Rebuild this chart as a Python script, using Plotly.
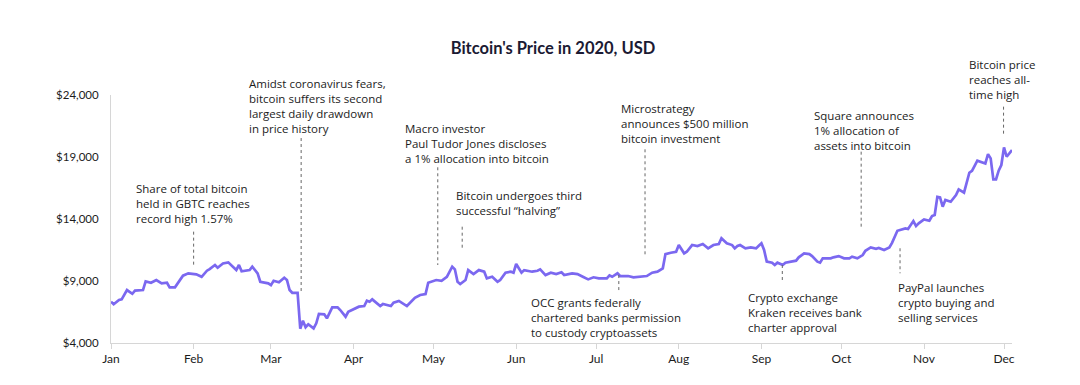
import plotly.graph_objects as go

# ---- data ----
dates = [
    "2020-01-01","2020-01-02","2020-01-04","2020-01-05","2020-01-07","2020-01-09","2020-01-10","2020-01-13",
    "2020-01-14","2020-01-16","2020-01-18","2020-01-20","2020-01-22","2020-01-23","2020-01-25","2020-01-28",
    "2020-01-30","2020-02-02","2020-02-04","2020-02-06","2020-02-07","2020-02-09","2020-02-10","2020-02-12",
    "2020-02-14","2020-02-16","2020-02-17","2020-02-18","2020-02-19","2020-02-22","2020-02-23","2020-02-25",
    "2020-02-26","2020-02-29","2020-03-01","2020-03-02","2020-03-04","2020-03-06","2020-03-07","2020-03-08",
    "2020-03-09","2020-03-11","2020-03-12","2020-03-13","2020-03-14","2020-03-15","2020-03-17","2020-03-18",
    "2020-03-19","2020-03-21","2020-03-22","2020-03-24","2020-03-26","2020-03-27","2020-03-29","2020-03-30",
    "2020-04-01","2020-04-03","2020-04-05","2020-04-06","2020-04-07","2020-04-08","2020-04-11","2020-04-12",
    "2020-04-15","2020-04-16","2020-04-18","2020-04-21","2020-04-24","2020-04-26","2020-04-28","2020-04-29",
    "2020-05-02","2020-05-04","2020-05-06","2020-05-08","2020-05-09","2020-05-10","2020-05-11","2020-05-13",
    "2020-05-14","2020-05-16","2020-05-18","2020-05-20","2020-05-21","2020-05-23","2020-05-25","2020-05-26",
    "2020-05-28","2020-05-30","2020-05-31","2020-06-01","2020-06-03","2020-06-04","2020-06-07","2020-06-09",
    "2020-06-10","2020-06-12","2020-06-14","2020-06-16","2020-06-18","2020-06-19","2020-06-22","2020-06-24",
    "2020-06-26","2020-06-28","2020-06-30","2020-07-02","2020-07-05","2020-07-06","2020-07-07","2020-07-09",
    "2020-07-10","2020-07-13","2020-07-15","2020-07-18","2020-07-20","2020-07-22","2020-07-24","2020-07-26",
    "2020-07-27","2020-07-29","2020-07-31","2020-08-01","2020-08-03","2020-08-04","2020-08-06","2020-08-08",
    "2020-08-09","2020-08-10","2020-08-12","2020-08-14","2020-08-16","2020-08-17","2020-08-19","2020-08-21",
    "2020-08-22","2020-08-23","2020-08-24","2020-08-26","2020-08-28","2020-08-30","2020-08-31","2020-09-01",
    "2020-09-02","2020-09-03","2020-09-05","2020-09-06","2020-09-07","2020-09-09","2020-09-10","2020-09-13",
    "2020-09-14","2020-09-15","2020-09-17","2020-09-19","2020-09-20","2020-09-22","2020-09-23","2020-09-24",
    "2020-09-27","2020-09-28","2020-09-30","2020-10-02","2020-10-04","2020-10-05","2020-10-07","2020-10-09",
    "2020-10-10","2020-10-12","2020-10-14","2020-10-15","2020-10-17","2020-10-19","2020-10-20","2020-10-22",
    "2020-10-24","2020-10-25","2020-10-26","2020-10-27","2020-10-28","2020-10-29","2020-10-30","2020-11-01",
    "2020-11-03","2020-11-04","2020-11-05","2020-11-06","2020-11-07","2020-11-08","2020-11-09","2020-11-11",
    "2020-11-13","2020-11-14","2020-11-16","2020-11-18","2020-11-19","2020-11-21","2020-11-23","2020-11-24",
    "2020-11-25","2020-11-26","2020-11-27","2020-11-28","2020-11-29","2020-11-30","2020-12-01","2020-12-02",
    "2020-12-04",
]
prices = [
    7330,7120,7470,7520,8270,7970,8220,8270,
    8970,8860,9080,8810,8860,8490,8490,9430,
    9620,9540,9340,9830,9960,10290,10070,10420,
    10500,10100,9880,10290,9780,9880,10150,9620,
    8940,8810,8670,9020,8890,9260,9080,8270,
    8050,8050,5150,5800,5270,5510,5180,5590,
    6340,6310,5990,6880,6880,6660,6120,6520,
    6720,6930,6980,7410,7330,7520,6980,7140,
    6980,7250,7390,6980,7650,7870,7950,8860,
    9080,9020,9340,10150,9940,8940,8760,9080,
    9880,9560,9880,9750,9210,9340,8940,9080,
    9670,9750,9670,10370,9670,9880,9750,9830,
    9940,9480,9670,9560,9700,9480,9620,9560,
    9340,9130,9300,9210,9210,9450,9340,9620,
    9400,9400,9300,9340,9400,9670,9750,10020,
    11170,11280,11360,11900,11230,11360,11900,11820,
    11900,11980,11630,11900,11980,12440,12040,11900,
    11630,11820,11900,11630,11710,11630,11840,12040,
    11500,10560,10480,10290,10480,10290,10480,10560,
    10640,10910,11230,11170,11010,10560,10480,10830,
    10830,10910,11010,10830,10830,10960,10830,11090,
    11440,11710,11600,11660,11500,11710,12080,13050,
    13160,13240,13190,13500,13830,13430,13650,13970,
    13860,14240,14320,15790,15750,14990,15530,15390,
    15930,16390,16120,17730,17890,18700,18540,18480,
    19230,18890,17190,17190,17900,18350,19770,19020,
    19560,
]

month_ticks = ["2020-01-01","2020-02-01","2020-03-01","2020-04-01","2020-05-01","2020-06-01",
               "2020-07-01","2020-08-01","2020-09-01","2020-10-01","2020-11-01","2020-12-01"]
month_labels = ["Jan","Feb","Mar","Apr","May","Jun","Jul","Aug","Sep","Oct","Nov","Dec"]
y_ticks = [4000, 9000, 14000, 19000, 24000]
y_labels = ["$4,000", "$9,000", "$14,000", "$19,000", "$24,000"]

event_texts = [
    "Share of total bitcoin<br>held in GBTC reaches<br>record high 1.57%",
    "Amidst coronavirus fears,<br>bitcoin suffers its second<br>largest daily drawdown<br>in price history",
    "Macro investor<br>Paul Tudor Jones discloses<br>a 1% allocation into bitcoin",
    "Bitcoin undergoes third<br>successful \u201chalving\u201d",
    "Microstrategy<br>announces $500 million<br>bitcoin investment",
    "OCC grants federally<br>chartered banks permission<br>to custody cryptoassets",
    "Crypto exchange<br>Kraken receives bank<br>charter approval",
    "Square announces<br>1% allocation of<br>assets into bitcoin",
    "PayPal launches<br>crypto buying and<br>selling services",
    "Bitcoin price<br>reaches all-<br>time high",
]
# callout layout: connector date, connector y span (price units), text anchor (left date, top in paper units)
event_line_x = ["2020-02-01","2020-03-12 08:00","2020-05-02 14:00","2020-05-11 18:00","2020-07-19 08:00",
                "2020-07-09 12:00","2020-09-08 20:00","2020-10-08 10:00","2020-10-23","2020-11-30 20:00"]
event_line_y0 = [12980, 20530, 18170, 13380, 19620, 9480, 10290, 19430, 11640, 23060]
event_line_y1 = [10290, 8030, 10290, 11560, 11100, 8270, 8860, 13380, 9620, 20640]
event_text_x = ["2020-01-10","2020-02-21 08:00","2020-04-20","2020-05-08 22:00","2020-07-09 22:00",
                "2020-06-06 08:00","2020-08-26 12:00","2020-09-20 06:00","2020-10-22","2020-11-17 08:00"]
event_text_top = [0.656, 1.082, 0.898, 0.629, 0.981, 0.196, 0.217, 0.952, 0.259, 1.157]

FONT = "Lato"
ANN_FONT = "Open Sans"
TEXT = "#1c1c1c"

W, H = 1072, 377

fig = go.Figure()
fig.add_trace(go.Scatter(
    x=dates, y=prices, mode="lines",
    line=dict(color="#7B68F0", width=2.7),
    hoverinfo="skip", showlegend=False,
))

for i, t in enumerate(event_texts):
    fig.add_shape(type="line", xref="x", yref="y",
                  x0=event_line_x[i], x1=event_line_x[i],
                  y0=event_line_y0[i], y1=event_line_y1[i],
                  line=dict(color="#666666", width=1, dash="dot"))
    fig.add_annotation(x=event_text_x[i], y=event_text_top[i], xref="x", yref="paper",
                       text=t, showarrow=False, xanchor="left", yanchor="top",
                       align="left", borderpad=0,
                       font=dict(family=ANN_FONT, size=11.5, color=TEXT))

fig.update_layout(
    width=W, height=H,
    margin=dict(l=103, r=68, t=87, b=42),
    paper_bgcolor="white", plot_bgcolor="white",
    font=dict(family=FONT, color=TEXT),
    title=dict(text="<b>Bitcoin's Price in 2020, USD</b>", x=545 / W, xref="container",
               y=1 - 40 / H, yref="container", xanchor="center", yanchor="middle",
               font=dict(family=FONT, size=16.5, color="#1b1a33")),
    showlegend=False,
)
fig.update_xaxes(
    type="date", range=["2020-01-01", "2020-12-04"],
    tickvals=month_ticks, ticktext=month_labels,
    showgrid=False, zeroline=False,
    showline=True, linecolor="#d6d6d6", linewidth=1,
    ticks="outside", ticklen=5, tickcolor="#d6d6d6",
    tickfont=dict(family=FONT, size=12, color=TEXT),
)
fig.update_yaxes(
    range=[4000, 24000], tickvals=y_ticks, ticktext=y_labels,
    showgrid=False, zeroline=False,
    showline=True, linecolor="#d6d6d6", linewidth=1,
    ticks="", ticklabelstandoff=9,
    tickfont=dict(family=FONT, size=11.5, color=TEXT),
)

fig.write_html("out.html")
